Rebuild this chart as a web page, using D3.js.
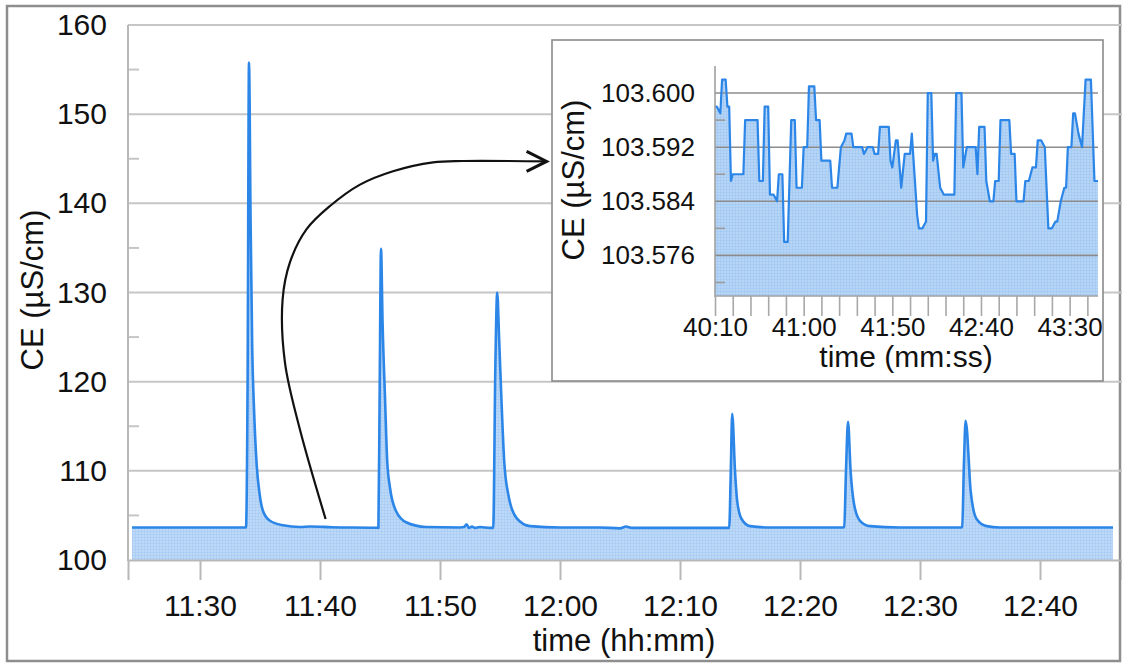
<!DOCTYPE html>
<html><head><meta charset="utf-8">
<script src="https://cdn.jsdelivr.net/npm/d3@7"></script>
<style>
html,body{margin:0;padding:0;background:#fff;}
svg{display:block;font-family:"Liberation Sans",Arial,sans-serif;}
</style></head><body>
<svg id="c" width="1122" height="664"></svg>
<script>
// ---------- main series (time hh:mm:ss, CE µS/cm) ----------
const mainTimes = ["11:24:20","11:30:00","11:33:50","11:33:58","11:34:05","11:34:13","11:34:21","11:34:30","11:34:43","11:34:58","11:35:15","11:35:50","11:36:55","11:38:20","11:39:10","11:41:00","11:44:35",
"11:44:52","11:44:58","11:45:05","11:45:13","11:45:25","11:45:36","11:45:50","11:46:20","11:47:13","11:48:50","11:51:40","11:52:00","11:52:13","11:52:25","11:52:40","11:52:55","11:53:20","11:54:10",
"11:54:26","11:54:37","11:54:46","11:54:56","11:55:08","11:55:21","11:55:41","11:56:23","11:57:30","12:00:00","12:03:20","12:05:00","12:05:30","12:06:00","12:10:00","12:14:00",
"12:14:06","12:14:14","12:14:21","12:14:35","12:14:46","12:15:08","12:15:50","12:17:30","12:23:35",
"12:23:41","12:23:50","12:24:00","12:24:13","12:24:30","12:25:00","12:25:50","12:28:20","12:33:25",
"12:33:31","12:33:40","12:33:48","12:33:55","12:34:01","12:34:13","12:34:43","12:35:33","12:36:40","12:46:05"];
const mainValues = [103.65,103.65,103.65,120,155.8,138,123.8,117,110.8,107.4,105.5,104.4,103.9,103.7,103.75,103.68,103.62,
103.6,118,134.9,126.5,118.2,111.1,108.1,105.5,104.2,103.7,103.65,103.7,104.0,103.6,103.75,103.6,103.7,103.6,
103.6,122,130.0,124.6,117.5,111.1,107.4,104.7,103.8,103.65,103.65,103.55,103.75,103.6,103.6,103.6,
103.6,110,116.4,110.0,106.6,104.6,103.8,103.65,103.65,
103.7,110,115.5,110,106.3,104.4,103.8,103.65,103.65,
103.7,111,115.6,114.5,112.3,107.8,104.6,103.8,103.65,103.65];
const mainXDomain = ["11:24:00","12:46:50"];
const mainXTickLabels = ["11:30","11:40","11:50","12:00","12:10","12:20","12:30","12:40"];
const mainYTicks = [100,110,120,130,140,150,160];
const mainYMinorTicks = [105,115,125,135,145,155];

// ---------- inset series (mm:ss, CE µS/cm) ----------
const insetTimes = ["40:10","40:11","40:13","40:14","40:16","40:17","40:18","40:19","40:20","40:26",
"40:27","40:34","40:35","40:37","40:38","40:40","40:41","40:43","40:45","40:46",
"40:48","40:49","40:51","40:53","40:55","40:56","40:59","41:00","41:02","41:03",
"41:06","41:07","41:09","41:10","41:15","41:16","41:19","41:21","41:23","41:24",
"41:27","41:28","41:33","41:34","41:36","41:39","41:40","41:42","41:43","41:48",
"41:49","41:50","41:52","41:53","41:55","41:57","42:00","42:01","42:04","42:05",
"42:07","42:09","42:10","42:12","42:13","42:14","42:15","42:17","42:19","42:25",
"42:26","42:29","42:30","42:32","42:37","42:38","42:39","42:42","42:43","42:45",
"42:47","42:48","42:50","42:51","42:56","42:57","42:59","43:00","43:04","43:05",
"43:07","43:09","43:11","43:12","43:14","43:16","43:18","43:20","43:22","43:23",
"43:25","43:27","43:28","43:29","43:31","43:32","43:33","43:35","43:37","43:39",
"43:42","43:44","43:46"];
const insetValues = [103.598,103.598,103.597,103.602,103.602,103.598,103.598,103.587,103.588,103.588,
103.596,103.596,103.587,103.587,103.598,103.598,103.585,103.585,103.584,103.588,
103.588,103.578,103.578,103.596,103.596,103.586,103.586,103.592,103.592,103.601,
103.601,103.596,103.596,103.590,103.590,103.586,103.586,103.592,103.593,103.594,
103.594,103.592,103.592,103.591,103.592,103.592,103.591,103.591,103.595,103.595,
103.590,103.589,103.593,103.593,103.586,103.591,103.591,103.594,103.582,103.580,
103.580,103.581,103.600,103.600,103.590,103.591,103.591,103.586,103.585,103.585,
103.600,103.600,103.589,103.592,103.592,103.588,103.595,103.595,103.587,103.584,
103.584,103.587,103.587,103.596,103.596,103.591,103.591,103.584,103.584,103.587,
103.587,103.589,103.589,103.593,103.593,103.592,103.580,103.580,103.581,103.581,
103.584,103.586,103.586,103.592,103.592,103.597,103.597,103.594,103.592,103.602,
103.602,103.587,103.587];
const insetXDomain = ["40:10","43:46"];
const insetYDomain = [103.570,103.604];
const insetXTickLabels = ["40:10","41:00","41:50","42:40","43:30"];
const insetYTicks = [103.576,103.584,103.592,103.600];
const insetYMinorTicks = [103.572,103.580,103.588,103.596];

// ---------- annotation arrow (in main chart data space) ----------
const arrowTimes = ["11:40:28","11:38:20","11:37:05","11:36:53","11:37:30","11:38:53","11:40:50","11:43:20","11:46:05","11:49:25","11:51:55","11:58:53"];
const arrowValues = [104.6,114.6,122.1,129.2,133.4,137.1,139.7,142.1,143.6,144.6,144.75,144.7];

const pHMS = d3.timeParse("%H:%M:%S"), pHM = d3.timeParse("%H:%M"), pMS = d3.timeParse("%M:%S");
const svg = d3.select("#c");
const defs = svg.append("defs");
function texture(id, base, line){
  const p = defs.append("pattern").attr("id",id).attr("width",3).attr("height",3).attr("patternUnits","userSpaceOnUse");
  p.append("rect").attr("width",3).attr("height",3).attr("fill",base);
  p.append("path").attr("d","M0,0.5H3M0.5,0V3").attr("stroke",line).attr("stroke-width",0.7);
}
texture("fillMain","#bcd9f8","#a9ccf2");
texture("fillInset","#b6d5f7","#a3c8f0");

// outer frame
svg.append("rect").attr("x",7).attr("y",6).attr("width",1113).attr("height",655)
  .attr("fill","#fff").attr("stroke","#8e8e8e").attr("stroke-width",2.5);

// ---------- main chart ----------
const x = d3.scaleTime().domain(mainXDomain.map(pHMS)).range([128,1122]);
const y = d3.scaleLinear().domain([100,160]).range([560,25]);
const mainData = mainTimes.map((t,i)=>({t:pHMS(t), v:mainValues[i]}));

const gridColor = "#c6c6c6";
svg.append("g").selectAll("line").data(mainYTicks.filter(v=>v>100)).join("line")
  .attr("x1",128).attr("x2",1122).attr("y1",d=>y(d)).attr("y2",d=>y(d))
  .attr("stroke",gridColor).attr("stroke-width",2);
svg.append("g").selectAll("line").data(mainYMinorTicks).join("line")
  .attr("x1",128).attr("x2",139).attr("y1",d=>y(d)).attr("y2",d=>y(d))
  .attr("stroke",gridColor).attr("stroke-width",2);

svg.append("path").datum(mainData)
  .attr("d", d3.area().x(d=>x(d.t)).y0(y(100)).y1(d=>y(d.v)).curve(d3.curveMonotoneX))
  .attr("fill","url(#fillMain)");
svg.append("path").datum(mainData)
  .attr("d", d3.line().x(d=>x(d.t)).y(d=>y(d.v)).curve(d3.curveMonotoneX))
  .attr("fill","none").attr("stroke","#2c86e8").attr("stroke-width",2.6).attr("stroke-linejoin","round");

// axes
const xAxis = svg.append("g").attr("transform","translate(0,560)")
  .call(d3.axisBottom(x).tickValues(mainXTickLabels.map(pHM)).tickSize(20).tickPadding(15).tickFormat(d3.timeFormat("%H:%M")));
xAxis.select(".domain").attr("stroke","#b8b8b8").attr("stroke-width",2);
xAxis.selectAll(".tick line").attr("stroke","#b8b8b8").attr("stroke-width",2);
xAxis.selectAll("text").attr("font-size",30).attr("fill","#111").attr("font-family","Liberation Sans, Arial, sans-serif");

svg.append("line").attr("x1",128).attr("x2",128).attr("y1",25).attr("y2",561)
  .attr("stroke","#b8b8b8").attr("stroke-width",2);
const yAxis = svg.append("g").attr("transform","translate(128,0)")
  .call(d3.axisLeft(y).tickValues(mainYTicks).tickSize(0).tickPadding(21).tickFormat(d3.format("d")));
yAxis.select(".domain").remove();
yAxis.selectAll("text").attr("font-size",30).attr("fill","#111").attr("font-family","Liberation Sans, Arial, sans-serif");

svg.append("text").attr("x",624).attr("y",651).attr("text-anchor","middle")
  .attr("font-size",31).attr("fill","#111").text("time (hh:mm)");
svg.append("text").attr("transform","translate(43,290) rotate(-90)").attr("text-anchor","middle")
  .attr("font-size",31).attr("fill","#111").text("CE (µS/cm)");

// arrow
const arrowPts = arrowTimes.map((t,i)=>[x(pHMS(t)), y(arrowValues[i])]);
svg.append("path").attr("d", d3.line().curve(d3.curveCatmullRom.alpha(0.5))(arrowPts))
  .attr("fill","none").attr("stroke","#111").attr("stroke-width",2.2);
const tip = arrowPts[arrowPts.length-1];
svg.append("path").attr("d",`M${tip[0]-20},${tip[1]-10}L${tip[0]},${tip[1]}L${tip[0]-20},${tip[1]+10}`)
  .attr("fill","none").attr("stroke","#111").attr("stroke-width",3).attr("stroke-linejoin","miter");

// ---------- inset ----------
svg.append("rect").attr("x",552).attr("y",40).attr("width",551).attr("height",341)
  .attr("fill","#fff").attr("stroke","#8a8a8a").attr("stroke-width",1.6);
const xi = d3.scaleTime().domain(insetXDomain.map(pMS)).range([715,1098]);
const yi = d3.scaleLinear().domain(insetYDomain).range([296,66]);
const insetData = insetTimes.map((t,i)=>({t:pMS(t), v:insetValues[i]}));

svg.append("path").datum(insetData)
  .attr("d", d3.area().x(d=>xi(d.t)).y0(yi(insetYDomain[0])).y1(d=>yi(d.v)))
  .attr("fill","url(#fillInset)");
svg.append("g").selectAll("line").data(insetYTicks).join("line")
  .attr("x1",715).attr("x2",1098).attr("y1",d=>yi(d)).attr("y2",d=>yi(d))
  .attr("stroke","#8c8c8c").attr("stroke-width",1.6);
svg.append("g").selectAll("line").data(insetYMinorTicks).join("line")
  .attr("x1",715).attr("x2",725).attr("y1",d=>yi(d)).attr("y2",d=>yi(d))
  .attr("stroke","#9a9a9a").attr("stroke-width",1.6);
svg.append("path").datum(insetData)
  .attr("d", d3.line().x(d=>xi(d.t)).y(d=>yi(d.v)))
  .attr("fill","none").attr("stroke","#2c86e8").attr("stroke-width",2.2).attr("stroke-linejoin","round");

// inset axes
svg.append("line").attr("x1",715).attr("x2",715).attr("y1",66).attr("y2",297)
  .attr("stroke","#a0a0a0").attr("stroke-width",1.6);
svg.append("line").attr("x1",715).attr("x2",1098).attr("y1",296).attr("y2",296)
  .attr("stroke","#a0a0a0").attr("stroke-width",1.6);
const insetTickTimes = d3.timeSecond.every(10).range(pMS("40:10"), pMS("43:41"));
const xiAxis = svg.append("g").attr("transform","translate(0,296)")
  .call(d3.axisBottom(xi).tickValues(insetTickTimes).tickSize(20).tickPadding(2)
    .tickFormat(d=>{const s=d3.timeFormat("%M:%S")(d); return insetXTickLabels.includes(s)?s:"";}));
xiAxis.select(".domain").remove();
xiAxis.selectAll(".tick line").attr("stroke","#a8a8a8").attr("stroke-width",1.6);
xiAxis.selectAll("text").attr("font-size",26).attr("fill","#111").attr("font-family","Liberation Sans, Arial, sans-serif");

const yiAxis = svg.append("g").attr("transform","translate(715,0)")
  .call(d3.axisLeft(yi).tickValues(insetYTicks).tickSize(0).tickPadding(20).tickFormat(d3.format(".3f")));
yiAxis.select(".domain").remove();
yiAxis.selectAll("text").attr("font-size",26).attr("fill","#111").attr("font-family","Liberation Sans, Arial, sans-serif");

svg.append("text").attr("x",906).attr("y",367).attr("text-anchor","middle")
  .attr("font-size",30).attr("fill","#111").text("time (mm:ss)");
svg.append("text").attr("transform","translate(584,180) rotate(-90)").attr("text-anchor","middle")
  .attr("font-size",31).attr("fill","#111").text("CE (µS/cm)");
</script>
</body></html>
